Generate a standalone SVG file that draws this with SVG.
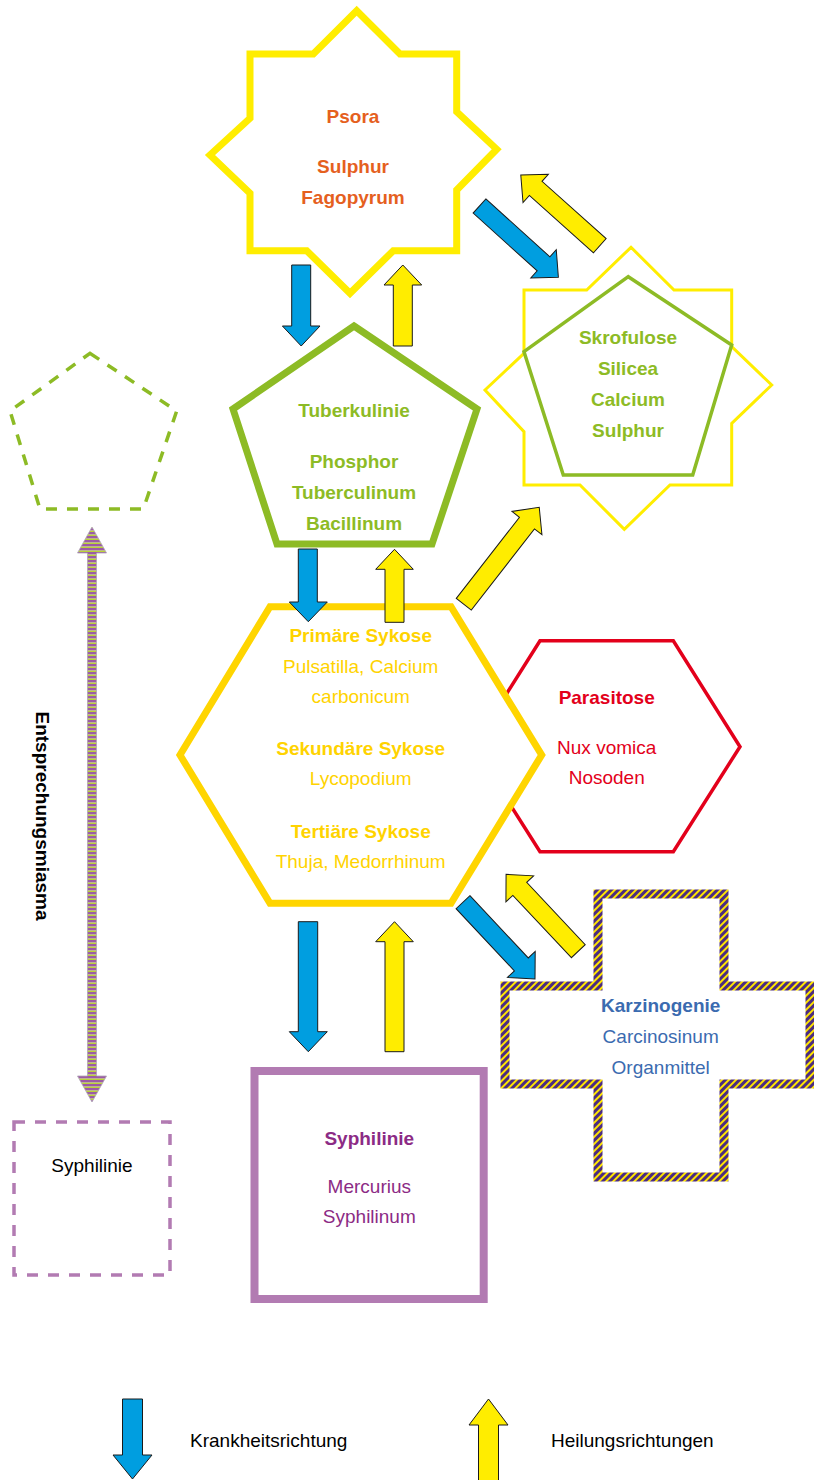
<svg xmlns="http://www.w3.org/2000/svg" width="814" height="1480" viewBox="0 0 814 1480">
<defs>
<pattern id="hstripe" patternUnits="userSpaceOnUse" width="10" height="4">
<rect x="0" y="0" width="10" height="2.6" fill="#9C5BA6"/>
<rect x="0" y="2.6" width="10" height="1.4" fill="#B9D438"/>
</pattern>
<pattern id="dstripe" patternUnits="userSpaceOnUse" width="5" height="5" patternTransform="rotate(45)">
<rect x="0" y="0" width="3" height="5" fill="#4B2C82"/>
<rect x="3" y="0" width="2" height="5" fill="#FFE500"/>
</pattern>
</defs>
<style>
text{font-family:"Liberation Sans",Arial,sans-serif;font-size:19px;text-anchor:middle}
.b{font-weight:bold}
.blue{fill:#009EE0;stroke:#1a1a1a;stroke-width:1}
.yel{fill:#FFED00;stroke:#1a1a1a;stroke-width:1}
</style>
<rect width="814" height="1480" fill="#fff"/>

<g id="psora">
<polygon points="356.7,10.7 400,54 456.7,54 456.7,111.7 496.7,149.3 456.7,190 456.7,250.7 393.3,250.7 350,293.3 306.7,250.7 250,250.7 250,193.3 210,155 250,118.3 250,54 313.3,54" fill="#fff" stroke="#FFED00" stroke-width="7"/>
<g fill="#E5601E">
<text x="353" y="122.5" class="b">Psora</text>
<text x="353" y="172.5" class="b">Sulphur</text>
<text x="353" y="203.5" class="b">Fagopyrum</text>
</g>
</g>

<g id="skrofulose">
<polygon points="631,247.3 674,290 731.7,290 731.7,346.7 771.7,385 731.7,423.3 731.7,485 670,485 624.3,529.3 580,485 524,485 524,431.7 485,390 524,353.3 524,290 586.7,290" fill="#fff" stroke="#FFED00" stroke-width="3"/>
<polygon points="628.3,276.7 731.7,345 692.7,475 563.3,475 524,351.7" fill="none" stroke="#8DBB25" stroke-width="3.5"/>
<g fill="#8DBB25">
<text x="628" y="343.5" class="b">Skrofulose</text>
<text x="628" y="374.5" class="b">Silicea</text>
<text x="628" y="405.5" class="b">Calcium</text>
<text x="628" y="436.5" class="b">Sulphur</text>
</g>
</g>

<g id="tuberkulinie">
<polygon points="354,326 477,409 432,544 277,544 233,409" fill="#fff" stroke="#8DBB25" stroke-width="7"/>
<g fill="#8DBB25">
<text x="354" y="416.5" class="b">Tuberkulinie</text>
<text x="354" y="468" class="b">Phosphor</text>
<text x="354" y="499" class="b">Tuberculinum</text>
<text x="354" y="529.5" class="b">Bacillinum</text>
</g>
</g>

<g id="entsprechung-pentagon">
<polygon points="90,353.3 176.7,411 143.3,509 40,509 10,411" fill="none" stroke="#8DBB25" stroke-width="3.5" stroke-dasharray="11 10"/>
</g>

<g id="parasitose">
<polygon points="540,640.7 673.3,640.7 740,746.7 673.3,851.7 540,851.7 473.3,746.7" fill="#fff" stroke="#E3001B" stroke-width="3.5"/>
<g fill="#E3001B">
<text x="606.7" y="703.5" class="b">Parasitose</text>
<text x="606.7" y="753.5">Nux vomica</text>
<text x="606.7" y="784">Nosoden</text>
</g>
</g>

<g id="sykose">
<polygon points="270,606.7 451,606.7 541.7,755 451,903.3 270,903.3 180,755" fill="#fff" stroke="#FFD500" stroke-width="7"/>
<g fill="#FFD300">
<text x="360.7" y="641.7" class="b">Primäre Sykose</text>
<text x="360.7" y="672.7">Pulsatilla, Calcium</text>
<text x="360.7" y="703.3">carbonicum</text>
<text x="360.7" y="755" class="b">Sekundäre Sykose</text>
<text x="360.7" y="785">Lycopodium</text>
<text x="360.7" y="837.7" class="b">Tertiäre Sykose</text>
<text x="360.7" y="868.3">Thuja, Medorrhinum</text>
</g>
</g>

<g id="karzinogenie">
<polygon points="598,894 724,894 724,986 810,986 810,1084 724,1084 724,1177 598,1177 598,1084 505,1084 505,986 598,986" fill="#fff" stroke="url(#dstripe)" stroke-width="9"/>
<g fill="#3B6BB0">
<text x="660.7" y="1011.7" class="b">Karzinogenie</text>
<text x="660.7" y="1042.7">Carcinosinum</text>
<text x="660.7" y="1074">Organmittel</text>
</g>
</g>

<g id="syphilinie">
<rect x="254.5" y="1071" width="229.2" height="228" fill="#fff" stroke="#B27BB2" stroke-width="8"/>
<g fill="#8C2B85">
<text x="369.3" y="1145" class="b">Syphilinie</text>
<text x="369.3" y="1193.3">Mercurius</text>
<text x="369.3" y="1223.3">Syphilinum</text>
</g>
</g>

<g id="syphilinie-dashed">
<rect x="14" y="1122" width="156" height="153" fill="none" stroke="#B27BB2" stroke-width="3.5" stroke-dasharray="11 10"/>
<text x="92" y="1172" fill="#000">Syphilinie</text>
</g>

<g id="entsprechungsmiasma">
<text class="b" fill="#000" transform="translate(36,816) rotate(90)">Entsprechungsmiasma</text>
</g>

<g id="connectors">
<polygon points="92,527 106.5,553 96.5,553 96.5,1076 106.5,1076 92,1102 77.5,1076 87.5,1076 87.5,553 77.5,553" fill="url(#hstripe)" stroke="#B0A4B4" stroke-width="0.8"/>
<polygon class="blue" points="291.7,265 310.7,265 310.7,326 320,326 301.2,346 282.4,326 291.7,326"/>
<polygon class="yel" points="393.3,346 412.3,346 412.3,285 421.7,285 402.8,265 384,285 393.3,285"/>
<polygon class="blue" transform="translate(479.5,206) rotate(42.1)" points="0,-9.5 86.3,-9.5 86.3,-19 106.3,0 86.3,19 86.3,9.5 0,9.5"/>
<polygon class="yel" transform="translate(599.8,245.7) rotate(-138.2)" points="0,-9.5 86,-9.5 86,-19 106,0 86,19 86,9.5 0,9.5"/>
<polygon class="blue" points="298.3,549 317.3,549 317.3,602 327.3,602 308.3,621.7 289.3,602 298.3,602"/>
<polygon class="yel" points="385,622.3 404,622.3 404,569.3 413.3,569.3 394.5,549.3 375.7,569.3 385,569.3"/>
<polygon class="yel" transform="translate(463.8,604.2) rotate(-52.1)" points="0,-9.5 102.8,-9.5 102.8,-19 122.8,0 102.8,19 102.8,9.5 0,9.5"/>
<polygon class="blue" points="298.3,921.7 317.7,921.7 317.7,1031.7 327.3,1031.7 308.3,1051.7 289.3,1031.7 298.3,1031.7"/>
<polygon class="yel" points="385,1051.7 404,1051.7 404,941.7 413.3,941.7 394.5,921.7 375.7,941.7 385,941.7"/>
<polygon class="blue" transform="translate(463,902.2) rotate(46.85)" points="0,-9.5 85.3,-9.5 85.3,-19 105.3,0 85.3,19 85.3,9.5 0,9.5"/>
<polygon class="yel" transform="translate(578.3,951.2) rotate(-133.2)" points="0,-9.5 85.5,-9.5 85.5,-19 105.5,0 85.5,19 85.5,9.5 0,9.5"/>
</g>

<g id="legend">
<polygon class="blue" points="122.5,1399 142.5,1399 142.5,1455 152,1455 132.5,1479 113,1455 122.5,1455"/>
<text x="190" y="1447" style="text-anchor:start" fill="#000">Krankheitsrichtung</text>
<polygon class="yel" points="478.5,1481 498.5,1481 498.5,1425 508,1425 488.5,1399 469,1425 478.5,1425"/>
<text x="551" y="1447" style="text-anchor:start" fill="#000">Heilungsrichtungen</text>
</g>
</svg>
